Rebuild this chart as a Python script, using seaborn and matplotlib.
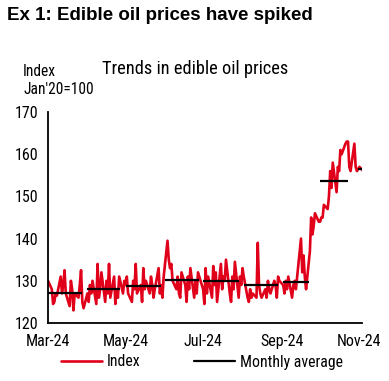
import matplotlib
matplotlib.use("Agg")
import matplotlib.pyplot as plt
import seaborn as sns
import pandas as pd
import warnings
warnings.filterwarnings("ignore")

# ---------------- data ----------------
index_mar = [130, 128, 124.5, 125, 127, 126.5, 131, 127, 129, 132.5, 127, 124, 130, 128, 123, 127, 126, 129, 132.5, 125, 123.5]
index_apr = [127, 125, 129, 127, 130, 124.5, 134, 126, 128, 132, 125, 130, 127, 134, 126, 131, 124.5, 128, 126, 131, 127, 130]
index_may = [129, 131, 127, 125, 130, 128, 134, 127, 129, 125, 133, 128, 130, 127, 131, 129, 126, 128, 133, 127, 129, 126, 131]
index_jun = [139.5, 135, 133, 134, 130, 128, 131, 127, 126, 132, 129, 125, 131, 128, 133, 126, 130, 127, 132, 131]
index_jul = [128, 124.5, 133, 127, 131, 126, 133.5, 129, 132, 125, 134, 128, 131, 130, 135, 127, 125, 131, 128, 134.5, 126, 131, 129]
index_aug = [133, 131, 126, 125, 128, 126, 127, 126, 139, 129, 127, 126, 128, 126, 130, 128, 127, 130, 129, 126, 131, 130]
index_sep = [129, 127, 130, 128, 131, 126, 129, 130, 128, 131, 140, 132, 136, 131, 128, 137, 145, 141, 143, 146, 144]
index_oct = [144, 145, 145, 148, 147, 150, 156, 152, 158, 151, 157, 156, 161, 160, 162.5, 163, 163, 157, 156, 162.5, 157, 156, 156.5]
index_nov = [157, 156, 156.5]

month_start = ["2024-03-01", "2024-04-01", "2024-05-01", "2024-06-01", "2024-07-01",
               "2024-08-02", "2024-09-02", "2024-10-01", "2024-10-31"]
month_end = ["2024-03-28", "2024-04-27", "2024-05-29", "2024-06-28", "2024-07-29",
             "2024-08-29", "2024-09-22", "2024-10-23", "2024-11-03"]
monthly_avg = [127.2, 128.0, 128.7, 130.1, 130.0, 128.9, 129.6, 153.7, 156.4]

x_ticks = ["2024-03-01", "2024-05-01", "2024-07-01", "2024-09-01", "2024-11-01"]
x_tick_labels = ["Mar-24", "May-24", "Jul-24", "Sep-24", "Nov-24"]
y_ticks = [120, 130, 140, 150, 160, 170]

# ---------------- build ----------------
values = index_mar + index_apr + index_may + index_jun + index_jul + index_aug + index_sep + index_oct + index_nov
dates = pd.bdate_range("2024-03-01", periods=len(values))
df = pd.DataFrame({"date": dates, "value": values})

sns.set_theme(style="white")
FAM = ["Liberation Sans Narrow", "Arial Narrow", "Roboto Condensed", "Archivo Narrow",
       "Liberation Sans", "DejaVu Sans"]
plt.rcParams["font.family"] = FAM

RED = "#E0001A"

fig = plt.figure(figsize=(3.89, 3.81), dpi=100)
ax = fig.add_axes([48 / 389, 1 - 323 / 381, (362 - 48) / 389, (323 - 112) / 381])

sns.lineplot(data=df, x="date", y="value", ax=ax, color=RED, linewidth=1.9, legend=False)

for s, e, v in zip(month_start, month_end, monthly_avg):
    ax.hlines(v, pd.Timestamp(s), pd.Timestamp(e), color="black", linewidth=1.6, zorder=3)

ax.set_xlim(pd.Timestamp("2024-03-01"), pd.Timestamp("2024-11-03"))
ax.set_ylim(120, 170)
ax.set_xticks([pd.Timestamp(t) for t in x_ticks])
ax.set_xticklabels(x_tick_labels)
ax.set_yticks(y_ticks)
ax.set_xlabel("")
ax.set_ylabel("")

for sp in ["top", "right"]:
    ax.spines[sp].set_visible(False)
for sp in ["left", "bottom"]:
    ax.spines[sp].set_color("black")
    ax.spines[sp].set_linewidth(1.3)
ax.tick_params(axis="both", which="major", direction="out", length=4, width=1.3,
               color="black", labelsize=11.5, labelcolor="black", pad=3)
ax.tick_params(axis="x", pad=4)

fig.text(7 / 389, 1 - 16 / 381, "Ex 1: Edible oil prices have spiked", fontsize=13.5,
         fontweight="bold", family=["Liberation Sans", "DejaVu Sans"], va="center", ha="left",
         color="black")
fig.text(23 / 389, 1 - 71 / 381, "Index", fontsize=11.2, va="center", ha="left", color="black")
fig.text(23 / 389, 1 - 90 / 381, "Jan'20=100", fontsize=11.2, va="center", ha="left", color="black")
fig.text(102 / 389, 1 - 69 / 381, "Trends in edible oil prices", fontsize=13.2, va="center",
         ha="left", color="black")

handles = [plt.Line2D([], [], color=RED, linewidth=1.9),
           plt.Line2D([], [], color="black", linewidth=1.6)]
leg = fig.legend(handles, ["Index", "Monthly average"], loc="center", ncol=2,
                 bbox_to_anchor=(202 / 389, 1 - 362 / 381), frameon=False, fontsize=11.3,
                 handlelength=2.6, handletextpad=0.3, columnspacing=3.4)
for t in leg.get_texts():
    t.set_color("black")

fig.savefig("out.png", dpi=100)
